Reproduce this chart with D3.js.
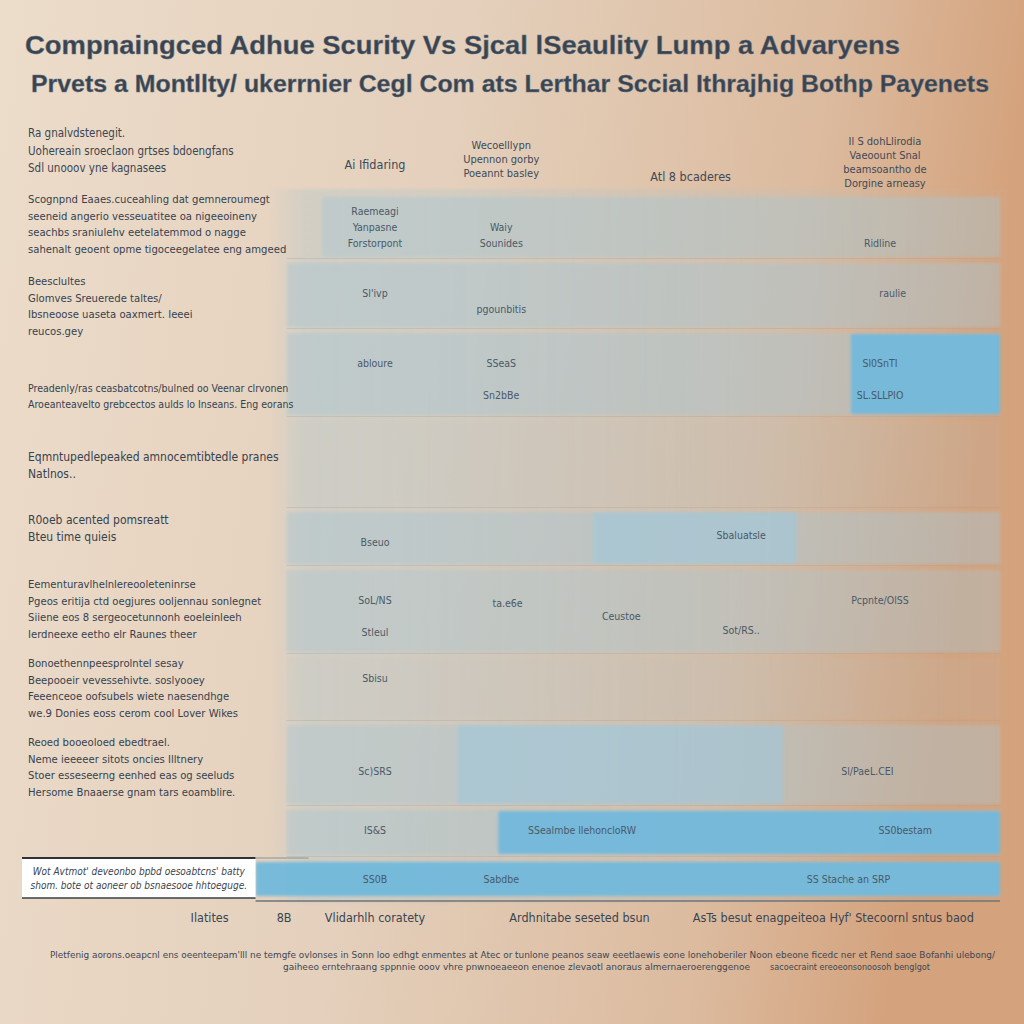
<!DOCTYPE html>
<html>
<head>
<meta charset="utf-8">
<script src="https://cdn.jsdelivr.net/npm/d3@7"></script>
<style>
  body { margin: 0; background: #e8d5c1; }
  text { font-family: "Liberation Sans Narrow", "DejaVu Sans Condensed", sans-serif; }
</style>
</head>
<body>
<svg id="chart" width="1024" height="1024"></svg>
<script>
// ---- data ----
const titleLines = [
    "Compnaingced Adhue Scurity Vs Sjcal lSeaulity Lump a Advaryens",
    "Prvets a Montllty/ ukerrnier Cegl Com ats Lerthar Sccial Ithrajhig Bothp Payenets"
];

const headerNote = [
    "Ra gnalvdstenegit.",
    "Uohereain sroeclaon grtses bdoengfans",
    "Sdl unooov yne kagnasees"
];

const columnHeaders = [
    { col: 0, lines: ["Ai Ifidaring"] },
    { col: 1, lines: ["Wecoelllypn", "Upennon gorby", "Poeannt basley"] },
    { col: 2.5, lines: ["Atl 8 bcaderes"] },
    { col: 4, lines: ["Il S dohLlirodia", "Vaeoount Snal", "beamsoantho de", "Dorgine arneasy"] }
];

const rowLabels = [
    ["Scognpnd Eaaes.cuceahling dat gemneroumegt", "seeneid angerio vesseuatitee oa nigeeoineny", "seachbs sraniulehv eetelatemmod o nagge", "sahenalt geoent opme tigoceegelatee eng amgeed"],
    ["Beesclultes", "Glomves Sreuerede taltes/", "Ibsneoose uaseta oaxmert. Ieeei", "reucos.gey"],
    ["Preadenly/ras ceasbatcotns/bulned oo Veenar clrvonen", "Aroeanteavelto grebcectos aulds lo Inseans. Eng eorans"],
    ["Eqmntupedlepeaked amnocemtibtedle pranes", "Natlnos.."],
    ["R0oeb acented pomsreatt", "Bteu time quieis"],
    ["Eementuravlhelnlereooleteninrse", "Pgeos eritija ctd oegjures ooljennau sonlegnet", "Siiene eos 8 sergeocetunnonh eoeleinleeh", "Ierdneexe eetho elr Raunes theer"],
    ["Bonoethennpeesprolntel sesay", "Beepooeir vevessehivte. soslyooey", "Feeenceoe oofsubels wiete naesendhge", "we.9 Donies eoss cerom cool Lover Wikes"],
    ["Reoed booeoloed ebedtrael.", "Neme ieeeeer sitots oncies Illtnery", "Stoer esseseerng eenhed eas og seeluds", "Hersome Bnaaerse gnam tars eoamblire."],
    [],
    ["Wot Avtmot' deveonbo bpbd oesoabtcns' batty", "shom. bote ot aoneer ob bsnaesooe hhtoeguge."]
];

// strength of the pale band behind each row
const rowTint = [0.42, 0.45, 0.45, 0.1, 0.45, 0.38, 0.1, 0.4, 0.42, 0.3];

// bright cells: row, column span, strength
const highlights = [
    { row: 2, from: 3.9, to: 5, level: 1 },
    { row: 4, from: 2, to: 3.5, level: 0.3 },
    { row: 7, from: 1, to: 3.4, level: 0.3 },
    { row: 8, from: 1.3, to: 5, level: 1 },
    { row: 9, from: -0.49, to: 5, level: 1 }
];

const cellTexts = [
    { row: 0, col: 0, line: 0, text: "Raemeagi" },
    { row: 0, col: 0, line: 1, text: "Yanpasne" },
    { row: 0, col: 0, line: 2, text: "Forstorpont" },
    { row: 0, col: 1, line: 1, text: "Waiy" },
    { row: 0, col: 1, line: 2, text: "Sounides" },
    { row: 0, col: 4, line: 2, text: "Ridline" },
    { row: 1, col: 0, line: 1, text: "Sl'ivp" },
    { row: 1, col: 1, line: 2, text: "pgounbitis" },
    { row: 1, col: 4.1, line: 1, text: "raulie" },
    { row: 2, col: 0, line: 1, text: "abloure" },
    { row: 2, col: 1, line: 1, text: "SSeaS" },
    { row: 2, col: 1, line: 3, text: "Sn2bBe" },
    { row: 2, col: 4, line: 1, text: "Sl0SnTI" },
    { row: 2, col: 4, line: 3, text: "SL.SLLPIO" },
    { row: 4, col: 0, line: 1, text: "Bseuo" },
    { row: 4, col: 2.9, line: 0.6, text: "Sbaluatsle" },
    { row: 5, col: 0, line: 1, text: "SoL/NS" },
    { row: 5, col: 0, line: 3, text: "Stleul" },
    { row: 5, col: 1.05, line: 1.2, text: "ta.e6e" },
    { row: 5, col: 1.95, line: 2, text: "Ceustoe" },
    { row: 5, col: 2.9, line: 2.9, text: "Sot/RS.." },
    { row: 5, col: 4, line: 1, text: "Pcpnte/OlSS" },
    { row: 6, col: 0, line: 0.4, text: "Sbisu" },
    { row: 7, col: 0, line: 2, text: "Sc)SRS" },
    { row: 7, col: 3.9, line: 2, text: "Sl/PaeL.CEI" },
    { row: 8, col: 0, line: 0.4, text: "IS&S" },
    { row: 8, col: 1.64, line: 0.4, text: "SSealmbe llehoncloRW" },
    { row: 8, col: 4.2, line: 0.4, text: "SS0bestam" },
    { row: 9, col: 0, line: 0.3, text: "SS0B" },
    { row: 9, col: 1, line: 0.3, text: "Sabdbe" },
    { row: 9, col: 3.75, line: 0.3, text: "SS Stache an SRP" }
];

const footerLabels = [
    { col: -1.31, text: "Ilatites" },
    { col: -0.72, text: "8B" },
    { col: 0, text: "Vlidarhlh coratety" },
    { col: 1.62, text: "Ardhnitabe seseted bsun" },
    { col: 3.63, text: "AsTs besut enagpeiteoa Hyf' Stecoornl sntus baod" }
];

const footnotes = [
    "Pletfenig aorons.oeapcnl ens oeenteepam'lll ne temgfe ovlonses in Sonn loo edhgt enmentes at Atec or tunlone peanos seaw eeetlaewis eone lonehoberiler Noon ebeone ficedc ner et Rend saoe Bofanhi ulebong/",
    "gaiheeo erntehraang sppnnie ooov vhre pnwnoeaeeon enenoe zlevaotl anoraus almernaeroerenggenoe",
    "sacoecraint ereoeonsonoosoh benglgot"
];

// ---- layout ----
const rowSize = [66, 70, 88, 91, 58, 88, 67, 85, 51, 42];
const rowGap = 6;
const labelStart = [2, 18, 55, 36, 8, 14, 5, 17, 0, 10];
const headerMid = [165, 159, 177, 162];

const svg = d3.select("#chart");
const defs = svg.append("defs");

let bg = defs.append("linearGradient").attr("id", "bg").attr("x1", 0).attr("x2", 1).attr("y1", 0).attr("y2", 0.15);
[[0, "#ecdcca"], [0.45, "#e4d0bc"], [0.8, "#dcbb9f"], [1, "#d4a27c"]].forEach(function (s) {
    bg.append("stop").attr("offset", s[0]).attr("stop-color", s[1]);
});
let haze = defs.append("linearGradient").attr("id", "haze");
[[0, 0.0], [0.05, 0.28], [0.55, 0.2], [1, 0.02]].forEach(function (s) {
    haze.append("stop").attr("offset", s[0]).attr("stop-color", "#9fc2d0").attr("stop-opacity", s[1]);
});
defs.append("filter").attr("id", "soft").attr("x", "-5%").attr("y", "-20%").attr("width", "110%").attr("height", "140%")
    .append("feGaussianBlur").attr("stdDeviation", 1.6);

svg.append("rect").attr("width", 1024).attr("height", 1024).attr("fill", "url(#bg)");

let bandX = d3.scaleLinear().domain([0, 5]).range([322, 1000]);
let textX = d3.scaleLinear().domain([0, 4]).range([375, 880]);
let rowY = d3.scaleLinear().domain([0, d3.sum(rowSize)]).range([197, 197 + d3.sum(rowSize)]);
let tops = [0].concat(Array.from(d3.cumsum(rowSize)));
function rowTop(i) { return rowY(tops[i]); }
function rowH(i) { return rowY(rowSize[i]) - rowY(0) - rowGap; }

svg.append("rect")
    .attr("x", bandX(-0.4)).attr("y", rowTop(0) - 8)
    .attr("width", bandX(5.05) - bandX(-0.4)).attr("height", rowTop(10) - rowTop(0) + 8)
    .attr("fill", "url(#haze)").attr("filter", "url(#soft)");

// titles
svg.selectAll(".title")
    .data(titleLines)
    .enter().append("text")
    .attr("class", "title")
    .attr("x", function (d, i) { return i == 0 ? 25 : 31; })
    .attr("y", function (d, i) { return i == 0 ? 54 : 92; })
    .attr("textLength", function (d, i) { return i == 0 ? 875 : 958; })
    .attr("lengthAdjust", "spacingAndGlyphs")
    .style("font-family", "'Liberation Sans', Arial, sans-serif")
    .style("font-weight", "bold")
    .style("font-size", function (d, i) { return i == 0 ? "26px" : "23px"; })
    .attr("fill", "#3a4450")
    .attr("stroke", "#6b7a88").attr("stroke-width", 0.4)
    .text(function (d) { return d; });

// header note top-left
svg.selectAll(".hnote")
    .data(headerNote)
    .enter().append("text")
    .attr("class", "hnote")
    .attr("x", 28)
    .attr("y", function (d, i) { return 133 + i * 17.5; })
    .attr("dy", "0.35em")
    .style("font-size", "11.5px")
    .attr("fill", "#3b4653")
    .text(function (d) { return d; });

// column headers
columnHeaders.forEach(function (h, k) {
    let n = h.lines.length;
    svg.append("g").selectAll("text")
        .data(h.lines)
        .enter().append("text")
        .attr("x", textX(h.col) + (k == 3 ? 5 : 0))
        .attr("y", function (d, i) { return headerMid[k] + (i - (n - 1) / 2) * 14; })
        .attr("dy", "0.35em")
        .attr("text-anchor", "middle")
        .style("font-size", n > 1 ? "11px" : "12.5px")
        .attr("fill", "#3e4a57")
        .text(function (d) { return d; });
});

// row bands
let bands = svg.append("g").attr("filter", "url(#soft)");
bands.selectAll(".band")
    .data(rowTint)
    .enter().append("rect")
    .attr("class", "band")
    .attr("x", function (d, i) { return i == 0 ? bandX(0) : bandX(-0.26); })
    .attr("y", function (d, i) { return rowTop(i); })
    .attr("width", function (d, i) { return bandX(5) - (i == 0 ? bandX(0) : bandX(-0.26)); })
    .attr("height", function (d, i) { return rowH(i); })
    .attr("fill", "#a8c6d2")
    .attr("fill-opacity", function (d) { return d; });

bands.selectAll(".hl")
    .data(highlights)
    .enter().append("rect")
    .attr("class", "hl")
    .attr("x", function (d) { return bandX(d.from); })
    .attr("y", function (d) { return rowTop(d.row) + (d.level == 1 ? 1 : 0); })
    .attr("width", function (d) { return bandX(d.to) - bandX(d.from); })
    .attr("height", function (d) { return rowH(d.row) - (d.level == 1 ? 2 : 0); })
    .attr("rx", 2)
    .attr("fill", function (d) { return d.level == 1 ? "#74b9da" : "#9cc9de"; })
    .attr("fill-opacity", function (d) { return d.level == 1 ? 0.97 : 0.55; });

// faint rules under rows
svg.selectAll(".rule")
    .data(rowSize.slice(0, 9))
    .enter().append("line")
    .attr("class", "rule")
    .attr("x1", bandX(-0.26)).attr("x2", bandX(5))
    .attr("y1", function (d, i) { return rowTop(i) + rowH(i) + 1.5; })
    .attr("y2", function (d, i) { return rowTop(i) + rowH(i) + 1.5; })
    .attr("stroke", "#9aa6ad").attr("stroke-opacity", 0.35).attr("stroke-width", 1);

// left row labels
rowLabels.forEach(function (lines, r) {
    if (r == 9) return;
    svg.append("g").selectAll("text")
        .data(lines)
        .enter().append("text")
        .attr("x", 28)
        .attr("y", function (d, i) { return rowTop(r) + labelStart[r] + i * 16.6; })
        .attr("dy", "0.35em")
        .style("font-size", r == 3 || r == 4 ? "12px" : (r == 2 ? "10.5px" : "11.2px"))
        .attr("fill", "#36424f")
        .text(function (d) { return d; });
});

// boxed note on last row
let last = 9;
svg.append("rect")
    .attr("x", 22).attr("y", rowTop(last) - 3)
    .attr("width", bandX(-0.49) - 22).attr("height", rowH(last) + 4)
    .attr("fill", "#ffffff");
svg.append("line")
    .attr("x1", 22).attr("x2", bandX(-0.49))
    .attr("y1", rowTop(last) - 3).attr("y2", rowTop(last) - 3)
    .attr("stroke", "#2f3338").attr("stroke-width", 2);
svg.append("line")
    .attr("x1", bandX(-0.49)).attr("x2", bandX(-0.1))
    .attr("y1", rowTop(last) - 3).attr("y2", rowTop(last) - 3)
    .attr("stroke", "#8c9196").attr("stroke-width", 1);
svg.append("line")
    .attr("x1", 22).attr("x2", bandX(-0.49))
    .attr("y1", rowTop(last) + rowH(last) + 1).attr("y2", rowTop(last) + rowH(last) + 1)
    .attr("stroke", "#3a3f44").attr("stroke-width", 1.5);
svg.append("line")
    .attr("x1", bandX(-0.49)).attr("x2", bandX(5))
    .attr("y1", rowTop(last) + rowH(last) + 4).attr("y2", rowTop(last) + rowH(last) + 4)
    .attr("stroke", "#6f7377").attr("stroke-width", 1.3);
svg.append("g").selectAll("text")
    .data(rowLabels[last])
    .enter().append("text")
    .attr("x", (22 + bandX(-0.49)) / 2)
    .attr("y", function (d, i) { return rowTop(last) + labelStart[last] + i * 14; })
    .attr("dy", "0.35em")
    .attr("text-anchor", "middle")
    .style("font-size", "10px")
    .style("font-style", "italic")
    .attr("fill", "#3a4450")
    .text(function (d) { return d; });

// cell values
svg.selectAll(".cell")
    .data(cellTexts)
    .enter().append("text")
    .attr("class", "cell")
    .attr("x", function (d) { return textX(d.col); })
    .attr("y", function (d) { return rowTop(d.row) + 14 + d.line * 16; })
    .attr("dy", "0.35em")
    .attr("text-anchor", "middle")
    .style("font-size", "10.5px")
    .attr("fill", "#4a5968")
    .text(function (d) { return d.text; });

// footer labels
svg.selectAll(".foot")
    .data(footerLabels)
    .enter().append("text")
    .attr("class", "foot")
    .attr("x", function (d) { return textX(d.col); })
    .attr("y", 918)
    .attr("dy", "0.35em")
    .attr("text-anchor", "middle")
    .style("font-size", "12.5px")
    .attr("fill", "#3a4552")
    .text(function (d) { return d.text; });

// footnotes
svg.selectAll(".fnote")
    .data(footnotes)
    .enter().append("text")
    .attr("class", "fnote")
    .attr("x", function (d, i) { return [50, 283, 770][i]; })
    .attr("y", function (d, i) { return i == 0 ? 955 : 967; })
    .attr("dy", "0.35em")
    .attr("textLength", function (d, i) { return [945, 467, 160][i]; })
    .attr("lengthAdjust", "spacingAndGlyphs")
    .style("font-size", function (d, i) { return i == 0 ? "8.5px" : "8.5px"; })
    .attr("fill", "#3d4753")
    .text(function (d) { return d; });
</script>
</body>
</html>
